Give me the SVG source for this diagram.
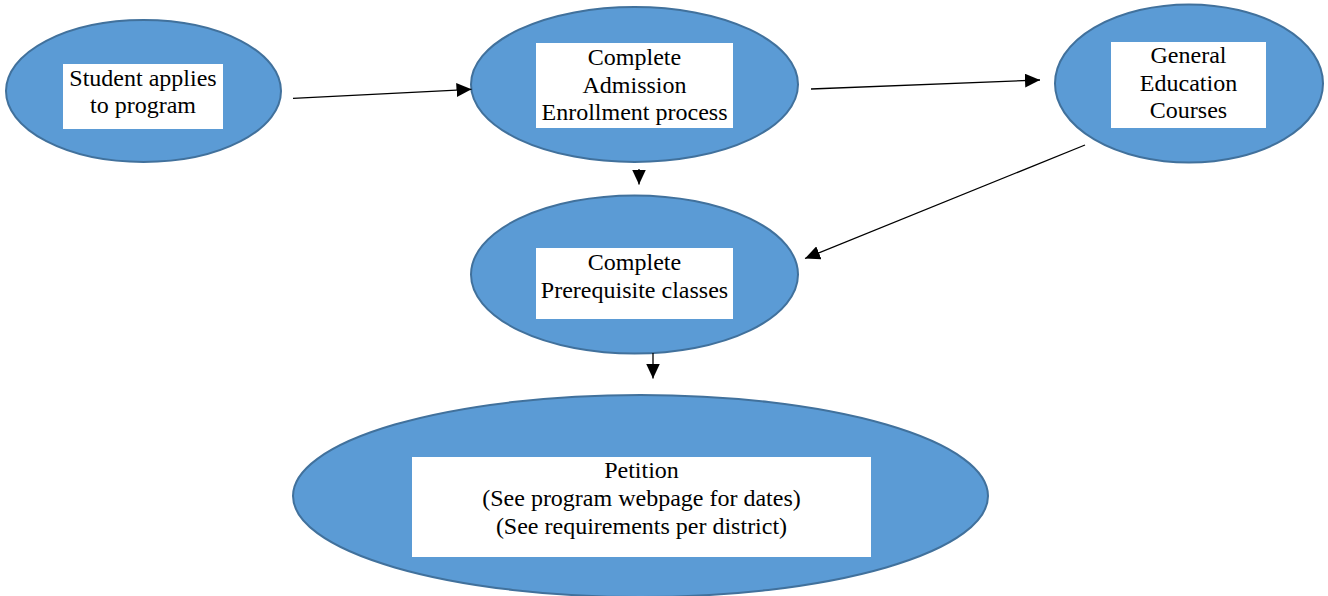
<svg xmlns="http://www.w3.org/2000/svg" width="1328" height="596" viewBox="0 0 1328 596">
<style>
.node ellipse{fill:#5B9BD5;stroke:#41719C;stroke-width:2}
.node rect{fill:#FFFFFF}
.conn line{stroke:#000;stroke-width:1.3;fill:none}
</style>
<defs>
<marker id="arr" viewBox="0 0 15 14" refX="15" refY="7" markerWidth="15" markerHeight="14" markerUnits="userSpaceOnUse" orient="auto">
<path d="M0,0 L15,7 L0,14 Z" fill="#000"/>
</marker>
</defs>
<rect width="1328" height="596" fill="#FFFFFF"/>
<g font-family="'Liberation Serif', 'Times New Roman', serif" font-size="24" fill="#000" text-anchor="middle">
<g id="n1" class="node">
<ellipse cx="143.5" cy="91" rx="137.5" ry="71"/>
<rect x="63" y="64" width="160" height="65"/>
<text x="143" y="86">Student applies</text>
<text x="143" y="113">to program</text>
</g>
<g id="n2" class="node">
<ellipse cx="634.5" cy="84.5" rx="163.5" ry="77.5"/>
<rect x="536" y="43" width="197" height="85"/>
<text x="634.5" y="65">Complete</text>
<text x="634.5" y="92.5">Admission</text>
<text x="634.5" y="120">Enrollment process</text>
</g>
<g id="n3" class="node">
<ellipse cx="1189" cy="83.5" rx="134" ry="79"/>
<rect x="1111" y="42" width="155" height="86"/>
<text x="1188.5" y="63">General</text>
<text x="1188.5" y="91">Education</text>
<text x="1188.5" y="118">Courses</text>
</g>
<g id="n4" class="node">
<ellipse cx="634.5" cy="274.5" rx="163.5" ry="79"/>
<rect x="536" y="248" width="197" height="71"/>
<text x="634.5" y="270">Complete</text>
<text x="634.5" y="297.5">Prerequisite classes</text>
</g>
<g id="n5" class="node">
<ellipse cx="640.5" cy="496" rx="347.5" ry="101"/>
<rect x="412" y="457" width="459" height="100"/>
<text x="641.5" y="478">Petition</text>
<text x="641.5" y="506">(See program webpage for dates)</text>
<text x="641.5" y="533.5">(See requirements per district)</text>
</g>
</g>
<g id="connectors" class="conn">
<line x1="293" y1="98.3" x2="471.5" y2="89.3" marker-end="url(#arr)"/>
<line x1="811" y1="89" x2="1040" y2="80" marker-end="url(#arr)"/>
<line x1="639" y1="169" x2="639" y2="184.5" marker-end="url(#arr)"/>
<line x1="1085" y1="145" x2="805" y2="258.5" marker-end="url(#arr)"/>
<line x1="653" y1="353" x2="653" y2="378.5" marker-end="url(#arr)"/>
</g>
</svg>
